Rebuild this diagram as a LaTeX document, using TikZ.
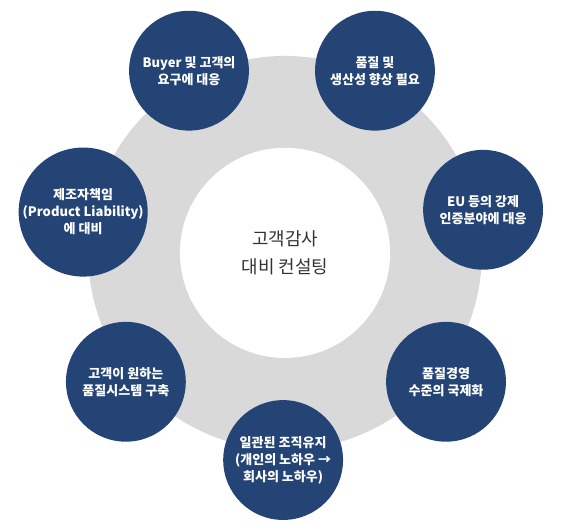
\documentclass[tikz,border=0pt]{standalone}
\usepackage{fontspec}
\setmainfont{Noto Sans CJK KR}
\usepackage{tikz}
\usetikzlibrary{positioning}
\definecolor{ringgray}{HTML}{D9D9D9}
\definecolor{topicblue}{HTML}{244476}
\definecolor{hubtext}{HTML}{333333}

\begin{document}
\begin{tikzpicture}[
    topic/.style={circle, fill=topicblue, minimum size=3.17cm, inner sep=0pt, align=center, text=white, font=\fontsize{9.8}{12.8}\selectfont\bfseries},
    hub/.style={circle, fill=white, minimum size=5.56cm, inner sep=0pt, align=center, text=hubtext, font=\fontsize{13.5}{20.5}\selectfont},
]
    \useasboundingbox (-7.54, -7.33) rectangle (7.46, 6.69);

    % Gray ring
    \fill[ringgray] (0, 0) circle (5.21);
    \node[hub] (hub) at (0, 0) {고객감사\\대비 컨설팅};

    % Topic circles
    \node[topic] (buyer) at (-2.54, 4.82) {Buyer 및 고객의\\요구에 대응};
    \node[topic] (quality) at (2.38, 4.82) {품질 및\\생산성 향상 필요};
    \node[topic] (eu) at (5.24, 1.14) {EU 등의 강제\\인증분야에 대응};
    \node[topic] (liability) at (-5.34, 1.08) {제조자책임\\(Product Liability)\\에 대비};
    \node[topic] (system) at (-4.21, -3.41) {고객이 원하는\\품질시스템 구축};
    \node[topic] (global) at (4.26, -3.41) {품질경영\\수준의 국제화};
    \node[topic] (knowhow) at (-0.05, -5.48) {일관된 조직유지\\(개인의 노하우 →\\회사의 노하우)};
\end{tikzpicture}
\end{document}
